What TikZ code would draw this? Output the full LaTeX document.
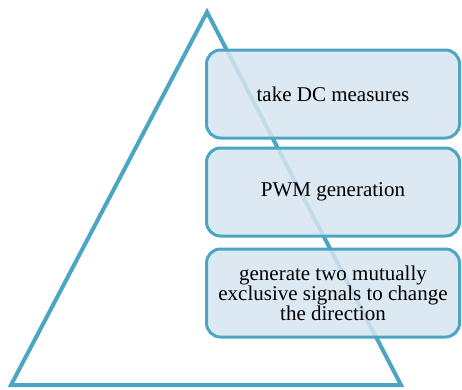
\documentclass[tikz,border=0pt]{standalone}
\usepackage{fontspec}
\setmainfont{Liberation Serif}
\definecolor{edge}{HTML}{4BA6C4}
\definecolor{boxfill}{HTML}{D6E5F1}
\begin{document}
\begin{tikzpicture}[x=1pt,y=-1pt,
  stepbox/.style={draw=edge, line width=3pt, fill=boxfill, fill opacity=0.85, text opacity=1, rounded corners=14pt,
    minimum width=253pt, minimum height=88pt, align=center, font=\fontsize{21}{20}\selectfont, inner sep=0pt}]
\useasboundingbox (0,0) rectangle (462,389);
\coordinate (apex) at (207,12);
\coordinate (bl) at (11,385);
\coordinate (br) at (401,385);
\draw[edge, line width=4pt, line join=miter] (apex) -- (br) -- (bl) -- cycle;
\node[stepbox] (b1) at (333,94) {take DC measures};
\node[stepbox] (b2) at (333,192) {PWM generation};
\node[stepbox] (b3) at (333,293) {generate two mutually\\exclusive signals to change\\the direction};
\end{tikzpicture}
\end{document}
